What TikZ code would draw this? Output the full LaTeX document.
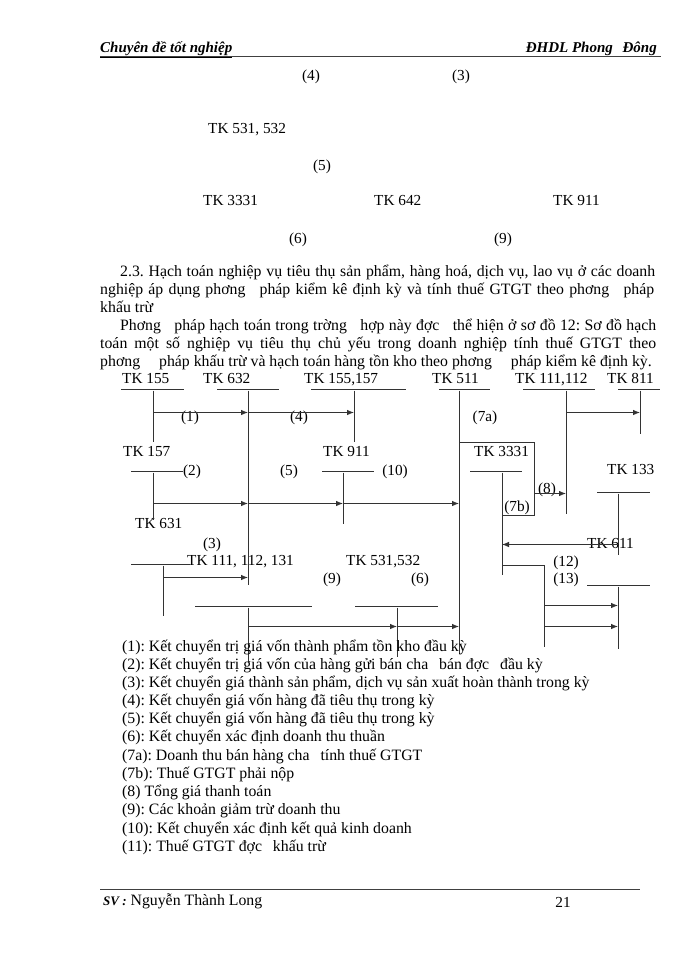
\documentclass[tikz,border=0pt]{standalone}
\usepackage{fontspec}
\setmainfont{Liberation Serif}
\usetikzlibrary{arrows.meta}
\frenchspacing
\begin{document}
\begin{tikzpicture}[x=1pt,y=-1pt,
  every node/.style={inner sep=0pt, yshift=-1.5pt, font=\fontsize{15.3}{18}\selectfont, text height=10.5pt, text depth=3pt},
  lbl/.style={anchor=west},
  leg/.style={anchor=west, font=\fontsize{15.8}{18}\selectfont},
  ctr/.style={anchor=center},
  ln/.style={line width=0.8pt, draw=black!80},
  arr/.style={ln, -{Latex[length=7pt,width=5.5pt]}},
  hdr/.style={anchor=west, font=\fontsize{15}{18}\selectfont\bfseries\itshape},
]
\useasboundingbox[fill=white] (0,0) rectangle (700,960);

% ---------------- header ----------------
\node[hdr] (hleft) at (100,47) {\underline{Chuyên đề tốt nghiệp}};
\node[hdr, anchor=east] (hright) at (657,47) {ĐHDL Phong\hspace{6pt} Đông};
\coordinate (hl1) at (100,55); \coordinate (hl2) at (661,55);
\draw[line width=0.9pt, black!75] (hl1) -- (hl2);

% ---------------- top residual labels ----------------
\node[ctr] (t4) at (311,75) {(4)};
\node[ctr] (t3) at (461,75) {(3)};
\node[lbl] (t531) at (208,128) {TK 531, 532};
\node[ctr] (t5) at (322,165) {(5)};
\node[lbl] (t3331) at (203,200) {TK 3331};
\node[lbl] (t642) at (374,200) {TK 642};
\node[lbl] (t911) at (553,200) {TK 911};
\node[ctr] (t6) at (298,238) {(6)};
\node[ctr] (t9) at (503,238) {(9)};

% ---------------- paragraph ----------------
\node[leg] (p1) at (120,271) {\makebox[535pt][s]{2.3. Hạch toán nghiệp vụ tiêu thụ sản phẩm, hàng hoá, dịch vụ, lao vụ ở các doanh}};
\node[leg] (p2) at (100,289) {\makebox[554pt][s]{nghiệp áp dụng phơng\hspace{9pt} pháp kiểm kê định kỳ và tính thuế GTGT theo phơng\hspace{9pt} pháp}};
\node[leg] (p3) at (100,307) {khấu trừ};
\node[leg] (p4) at (120,325) {\makebox[536pt][s]{Phơng\hspace{9pt} pháp hạch toán trong trờng\hspace{9pt} hợp này đợc\hspace{9pt} thể hiện ở sơ đồ 12: Sơ đồ hạch}};
\node[leg] (p5) at (100,343) {\makebox[556pt][s]{toán một số nghiệp vụ tiêu thụ chủ yếu trong doanh nghiệp tính thuế GTGT theo}};
\node[leg] (p6) at (100,361) {phơng\hspace{15pt} pháp khấu trừ và hạch toán hàng tồn kho theo phơng\hspace{15pt} pháp kiểm kê định kỳ.};

% ---------------- diagram labels ----------------
\node[lbl] (l155) at (122,378) {TK 155};
\node[lbl] (l632) at (203,378) {TK 632};
\node[lbl] (l155157) at (304,378) {TK 155,157};
\node[lbl] (l511) at (432,378) {TK 511};
\node[lbl] (l111112) at (515,378) {TK 111,112};
\node[lbl] (l811) at (607,378) {TK 811};
\node[lbl] (l157) at (123,451) {TK 157};
\node[lbl] (l911) at (323,451) {TK 911};
\node[lbl] (l3331) at (474,451) {TK 3331};
\node[lbl] (l133) at (607,469) {TK 133};
\node[lbl] (l631) at (135,523) {TK 631};
\node[lbl] (l111131) at (187,560) {TK 111, 112, 131};
\node[lbl] (l531532) at (346,560) {TK 531,532};

\node[ctr] (n1) at (190,416) {(1)};
\node[ctr] (n4) at (299,416) {(4)};
\node[ctr] (n7a) at (485,416) {(7a)};
\node[ctr] (n2) at (192,470) {(2)};
\node[ctr] (n5) at (289,470) {(5)};
\node[ctr] (n10) at (395,470) {(10)};
\node[ctr] (n8) at (547,488) {(8)};
\node[ctr] (n7b) at (517,506) {(7b)};
\node[ctr] (n3) at (212,543) {(3)};
\node[ctr] (n12) at (566,561) {(12)};
\node[ctr] (n9) at (332,578) {(9)};
\node[ctr] (n6) at (420,578) {(6)};
\node[ctr] (n13) at (566,578) {(13)};

% ---------------- T-account lines ----------------
\draw[ln] (121,389) -- (184,389);
\draw[ln] (217,389) -- (279,389);
\draw[ln] (311,389) -- (406,389);
\draw[ln] (439,389) -- (490,389);
\draw[ln] (523,389) -- (595,389);
\draw[ln] (618,389) -- (660,389);
\draw[ln] (131,471) -- (183,471);
\draw[ln] (322,471) -- (374,471);
\draw[ln] (470,471) -- (522,471);
\draw[ln] (597,492) -- (650,492);
\draw[ln] (131,564) -- (190,564);
\draw[ln] (195,606) -- (312,606);
\draw[ln] (355,606) -- (438,606);
\draw[ln] (587,585) -- (650,585);

\coordinate (a155) at (153,389);  \coordinate (a155e) at (153,440);
\coordinate (a632) at (248,389);  \coordinate (a632e) at (248,583);
\coordinate (a1557) at (354,389); \coordinate (a1557e) at (354,440);
\coordinate (a511) at (459,389);  \coordinate (a511e) at (459,652);
\coordinate (a111) at (566,389);  \coordinate (a111e) at (566,512);
\coordinate (a811) at (640,389);  \coordinate (a811e) at (640,432);
\coordinate (a157) at (153,471);  \coordinate (a157e) at (153,518);
\coordinate (a911) at (343,471);  \coordinate (a911e) at (343,522);
\coordinate (a3331) at (502,471); \coordinate (a3331e) at (502,573);
\coordinate (a133) at (618,492);  \coordinate (a133e) at (618,553);
\coordinate (a131) at (163,564);  \coordinate (a131e) at (163,614);
\coordinate (b1) at (248,606);    \coordinate (b1e) at (248,660);
\coordinate (b2) at (397,606);    \coordinate (b2e) at (397,655);
\coordinate (b3) at (618,585);    \coordinate (b3e) at (618,647);
\coordinate (b4s) at (502,564);   \coordinate (b4) at (544,564); \coordinate (b4e) at (544,645);

\foreach \p in {a155,a632,a1557,a511,a111,a811,a157,a911,a3331,a133,a131,b1,b2,b3}
  \draw[ln] (\p) -- (\p e);
\draw[ln] (b4s) -- (b4) -- (b4e);

% ---------------- arrows ----------------
\coordinate (r1a) at (153,411); \coordinate (r1b) at (248,411); \coordinate (r1c) at (354,411);
\draw[arr] (r1a) -- (r1b);
\draw[arr] (r1b) -- (r1c);
\coordinate (r2a) at (566,411); \coordinate (r2b) at (640,411);
\draw[arr] (r2a) -- (r2b);

\coordinate (r3a) at (153,502); \coordinate (r3b) at (248,502);
\coordinate (r3c) at (343,502); \coordinate (r3d) at (459,502);
\draw[arr] (r3a) -- (r3b);
\draw[arr] (r3b) -- (r3c);
\draw[arr] (r3c) -- (r3d);

\coordinate (k1) at (459,441); \coordinate (k2) at (534,441);
\coordinate (k3) at (534,514); \coordinate (k4) at (502,514);
\draw[ln] (k1) -- (k2) -- (k3) -- (k4);
\coordinate (k5) at (534,492); \coordinate (k6) at (566,492);
\draw[arr] (k5) -- (k6);

\node[lbl] (l611) at (587,543) {TK 611};
\coordinate (m1) at (618,543); \coordinate (m2) at (502,543);
\draw[arr] (m1) -- (m2);

\coordinate (s1) at (163,576); \coordinate (s2) at (248,576);
\draw[arr] (s1) -- (s2);

\coordinate (u1) at (544,604); \coordinate (u2) at (618,604);
\coordinate (u3) at (544,625); \coordinate (u4) at (618,625);
\draw[arr] (u1) -- (u2);
\draw[arr] (u3) -- (u4);

\coordinate (w1) at (248,625); \coordinate (w2) at (397,625); \coordinate (w3) at (459,625);
\draw[arr] (w1) -- (w2);
\draw[arr] (w2) -- (w3);

% ---------------- legend ----------------
\node[leg] (g1) at (122,646) {(1): Kết chuyển trị giá vốn thành phẩm tồn kho đầu kỳ};
\node[leg] (g2) at (122,664) {(2): Kết chuyển trị giá vốn của hàng gửi bán cha\hspace{7pt} bán đợc\hspace{7pt} đầu kỳ};
\node[leg] (g3) at (122,682) {(3): Kết chuyển giá thành sản phẩm, dịch vụ sản xuất hoàn thành trong kỳ};
\node[leg] (g4) at (122,700) {(4): Kết chuyển giá vốn hàng đã tiêu thụ trong kỳ};
\node[leg] (g5) at (122,718) {(5): Kết chuyển giá vốn hàng đã tiêu thụ trong kỳ};
\node[leg] (g6) at (122,736) {(6): Kết chuyển xác định doanh thu thuần};
\node[leg] (g7a) at (122,755) {(7a): Doanh thu bán hàng cha\hspace{7pt} tính thuế GTGT};
\node[leg] (g7b) at (122,773) {(7b): Thuế GTGT phải nộp};
\node[leg] (g8) at (122,791) {(8) Tổng giá thanh toán};
\node[leg] (g9) at (122,809) {(9): Các khoản giảm trừ doanh thu};
\node[leg] (g10) at (122,828) {(10): Kết chuyển xác định kết quả kinh doanh};
\node[leg] (g11) at (122,846) {(11): Thuế GTGT đợc\hspace{7pt} khấu trừ};

% ---------------- footer ----------------
\coordinate (f1) at (100,888); \coordinate (f2) at (640,888);
\draw[line width=0.9pt, black!75] (f1) -- (f2);
\node[leg] (fsv) at (103,900) {{\bfseries\itshape\fontsize{13}{15}\selectfont SV :} Nguyễn Thành Long};
\node[ctr] (fpg) at (563,902) {21};
\end{tikzpicture}
\end{document}
